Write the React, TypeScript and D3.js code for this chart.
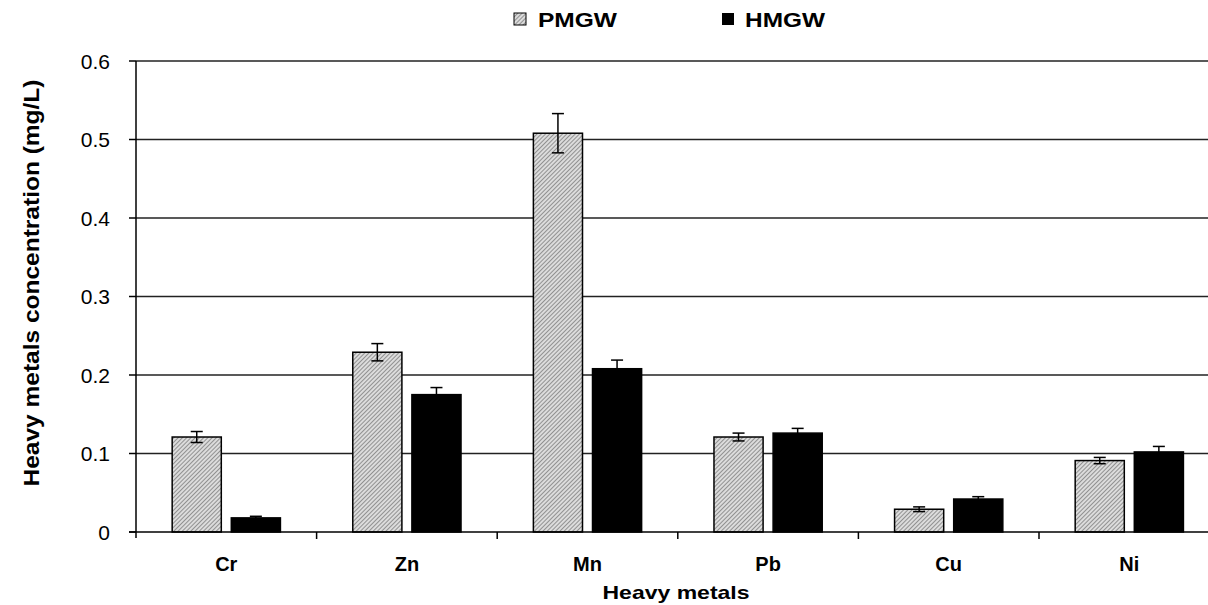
import React from "react";
import * as d3 from "d3";

const categories = ["Cr", "Zn", "Mn", "Pb", "Cu", "Ni"];
const pmgw = [0.121, 0.229, 0.508, 0.121, 0.029, 0.091];
const pmgwErr = [0.007, 0.011, 0.025, 0.005, 0.003, 0.004];
const hmgw = [0.018, 0.175, 0.208, 0.126, 0.042, 0.102];
const hmgwErr = [0.002, 0.009, 0.011, 0.006, 0.003, 0.007];
const yTicks = [0, 0.1, 0.2, 0.3, 0.4, 0.5, 0.6];
const seriesNames = ["PMGW", "HMGW"];

const W = 1208, H = 605;
const left = 136, top = 61, bottom = 532, right = 1219.6;

export default function App() {
  const x = d3.scaleBand<string>().domain(categories).range([left, right]);
  const y = d3.scaleLinear().domain([0, 0.6]).range([bottom, top]);
  const bw = x.bandwidth() * 0.272;
  const gap = 10;
  const font = "'Liberation Sans', Arial, sans-serif";

  const series = [
    { name: seriesNames[0], vals: pmgw, errs: pmgwErr, fill: "url(#hatch)", off: -gap / 2 - bw },
    { name: seriesNames[1], vals: hmgw, errs: hmgwErr, fill: "#000", off: gap / 2 },
  ];

  return (
    <svg width={W} height={H} style={{ position: "absolute", left: 0, top: 0, background: "#fff" }} fontFamily={font}>
      <defs>
        <pattern id="hatch" patternUnits="userSpaceOnUse" width="3" height="3" patternTransform="rotate(45)">
          <rect width="3" height="3" fill="#dcdcdc" />
          <line x1="0" y1="0" x2="0" y2="3" stroke="#707070" strokeWidth="1.4" />
        </pattern>
      </defs>
      {yTicks.filter(t => t > 0).map(t => (
        <line key={t} x1={left} x2={W} y1={y(t)} y2={y(t)} stroke="#222" strokeWidth={1.4} />
      ))}
      {series.map(s => categories.map((c, i) => {
        const cx = x(c)! + x.bandwidth() / 2;
        const bx = cx + s.off;
        const yt = y(s.vals[i]);
        const ex = bx + bw / 2;
        return (
          <g key={s.name + c}>
            <rect x={bx} y={yt} width={bw} height={bottom - yt} fill={s.fill} stroke="#000" strokeWidth={1.5} />
            <line x1={ex} x2={ex} y1={y(s.vals[i] + s.errs[i])} y2={y(s.vals[i] - s.errs[i])} stroke="#000" strokeWidth={1.5} />
            <line x1={ex - 6} x2={ex + 6} y1={y(s.vals[i] + s.errs[i])} y2={y(s.vals[i] + s.errs[i])} stroke="#000" strokeWidth={1.5} />
            <line x1={ex - 6} x2={ex + 6} y1={y(s.vals[i] - s.errs[i])} y2={y(s.vals[i] - s.errs[i])} stroke="#000" strokeWidth={1.5} />
          </g>
        );
      }))}
      <line x1={left} x2={left} y1={top} y2={bottom + 6} stroke="#000" strokeWidth={1.5} />
      <line x1={left - 7} x2={W} y1={bottom} y2={bottom} stroke="#000" strokeWidth={1.5} />
      {yTicks.map(t => (
        <g key={"t" + t}>
          <line x1={left - 7} x2={left} y1={y(t)} y2={y(t)} stroke="#000" strokeWidth={1.5} />
          <text x={110} y={y(t)} dy="0.36em" textAnchor="end" fontSize={21} fill="#000">{t === 0 ? "0" : t.toFixed(1)}</text>
        </g>
      ))}
      {categories.map((c, i) => (
        <g key={"c" + c}>
          {i > 0 && <line x1={x(c)!} x2={x(c)!} y1={bottom} y2={bottom + 7} stroke="#000" strokeWidth={1.5} />}
          <text x={x(c)! + x.bandwidth() / 2} y={571} textAnchor="middle" fontSize={20} fontWeight="bold">{c}</text>
        </g>
      ))}
      <text x={676} y={599} textAnchor="middle" fontSize={19} fontWeight="bold" textLength={147} lengthAdjust="spacingAndGlyphs">Heavy metals</text>
      <text transform={`translate(39,283) rotate(-90)`} textAnchor="middle" fontSize={22} fontWeight="bold" textLength={407} lengthAdjust="spacingAndGlyphs">Heavy metals concentration (mg/L)</text>
      <rect x={514} y={13} width={12} height={12} fill="url(#hatch)" stroke="#000" strokeWidth={1} />
      <text x={538} y={27} fontSize={21} fontWeight="bold" textLength={79} lengthAdjust="spacingAndGlyphs">{seriesNames[0]}</text>
      <rect x={722} y={13} width={12} height={12} fill="#000" />
      <text x={745} y={27} fontSize={21} fontWeight="bold" textLength={80} lengthAdjust="spacingAndGlyphs">{seriesNames[1]}</text>
    </svg>
  );
}
